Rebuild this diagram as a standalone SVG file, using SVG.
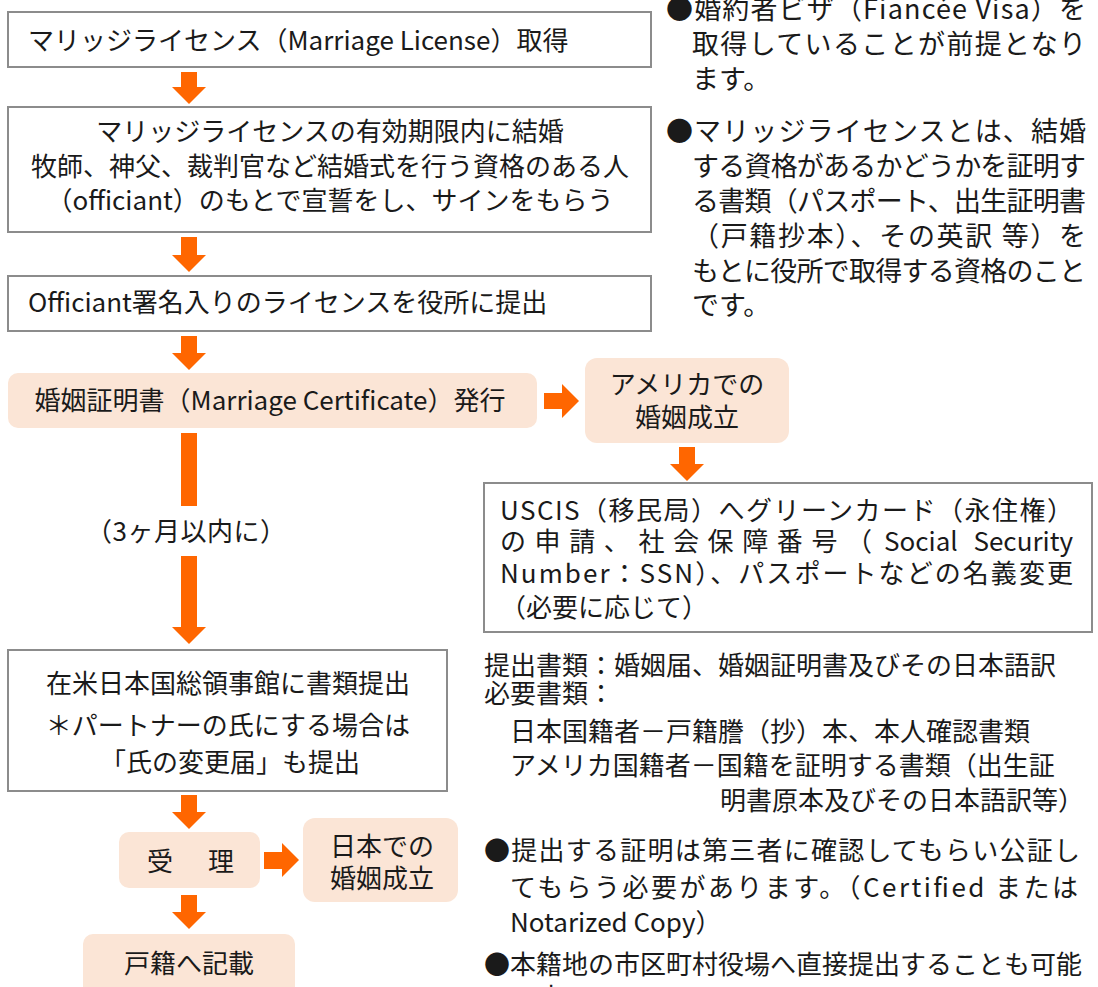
<svg xmlns="http://www.w3.org/2000/svg" width="1098" height="987" viewBox="0 0 1098 987">
<style>
text{font-family:"Noto Sans CJK JP","Noto Sans",sans-serif;font-size:26px;fill:#1a1a1a}
.box{fill:#fff;stroke:#8c8c8c;stroke-width:2}
.pink{fill:#fbe5d6;stroke:none}
.arr{fill:#ff6600}
.note{font-size:27px}
.mid{text-anchor:middle}
</style>
<rect width="1098" height="987" fill="#fff"/>
<g id="connectors">
<polygon class="arr" points="181,72 197,72 197,87 206,87 189,104 172,87 181,87"/>
<polygon class="arr" points="181,237 197,237 197,255 206,255 189,272 172,255 181,255"/>
<polygon class="arr" points="181,336 197,336 197,353 206,353 189,370 172,353 181,353"/>
<polygon class="arr" points="544,393 562,393 562,384 579,401 562,418 562,409 544,409"/>
<polygon class="arr" points="679,447 695,447 695,464 704,464 687,481 670,464 679,464"/>
<rect class="arr" x="181" y="433" width="16" height="73"/>
<polygon class="arr" points="181,556 197,556 197,627 206,627 189,644 172,627 181,627"/>
<polygon class="arr" points="181,795 197,795 197,812 206,812 189,829 172,812 181,812"/>
<polygon class="arr" points="264,852 282,852 282,843 299,860 282,877 282,869 264,869"/>
<polygon class="arr" points="181,895 197,895 197,912 206,912 189,929 172,912 181,912"/>
<text x="86" y="541" textLength="200" lengthAdjust="spacing">（3ヶ月以内に）</text>
</g>
<g id="n1">
<rect class="box" x="8" y="12" width="643" height="55"/>
<text x="28" y="50">マリッジライセンス（Marriage License）取得</text>
</g>
<g id="n2">
<rect class="box" x="8" y="107" width="643" height="125"/>
<text x="330" y="141" class="mid">マリッジライセンスの有効期限内に結婚</text>
<text x="330" y="176" class="mid">牧師、神父、裁判官など結婚式を行う資格のある人</text>
<text x="330" y="210" class="mid">（officiant）のもとで宣誓をし、サインをもらう</text>
</g>
<g id="n3">
<rect class="box" x="8" y="276" width="643" height="55"/>
<text x="28" y="312">Officiant署名入りのライセンスを役所に提出</text>
</g>
<g id="n4">
<rect class="pink" x="8" y="373" width="529" height="55" rx="10"/>
<text x="270" y="410" class="mid">婚姻証明書（Marriage Certificate）発行</text>
</g>
<g id="n5">
<rect class="pink" x="585" y="358" width="204" height="85" rx="12"/>
<text x="687" y="394" class="mid">アメリカでの</text>
<text x="687" y="427" class="mid">婚姻成立</text>
</g>
<g id="n6">
<rect class="box" x="484" y="483" width="608" height="149"/>
<text x="500" y="520" textLength="573" lengthAdjust="spacing">USCIS（移民局）へグリーンカード（永住権）</text>
<text x="500" y="551" textLength="372" lengthAdjust="spacing">の申請、社会保障番号（</text>
<text x="884" y="551">Social</text>
<text x="1073" y="551" text-anchor="end">Security</text>
<text x="500" y="583" textLength="573" lengthAdjust="spacing">Number：SSN）、パスポートなどの名義変更</text>
<text x="500" y="617">（必要に応じて）</text>
</g>
<g id="n7">
<rect class="box" x="8" y="650" width="439" height="141"/>
<text x="228" y="693" class="mid">在米日本国総領事館に書類提出</text>
<text x="228" y="735" class="mid">＊パートナーの氏にする場合は</text>
<text x="230" y="772" class="mid">「氏の変更届」も提出</text>
</g>
<g id="n8">
<rect class="pink" x="119" y="832" width="141" height="56" rx="10"/>
<text x="147" y="871" letter-spacing="4.5">受　理</text>
</g>
<g id="n9">
<rect class="pink" x="303" y="818" width="155" height="84" rx="12"/>
<text x="382" y="856" class="mid">日本での</text>
<text x="382" y="888" class="mid">婚姻成立</text>
</g>
<g id="n10">
<rect class="pink" x="83" y="934" width="212" height="70" rx="10"/>
<text x="189" y="973" class="mid">戸籍へ記載</text>
</g>
<g id="notes-top">
<text class="note" x="666" y="19" textLength="420" lengthAdjust="spacing">●婚約者ビザ（Fiancée Visa）を</text>
<text class="note" x="692" y="54" textLength="394" lengthAdjust="spacing">取得していることが前提となり</text>
<text class="note" x="692" y="89">ます。</text>
<text class="note" x="666" y="141" textLength="420" lengthAdjust="spacing">●マリッジライセンスとは、結婚</text>
<text class="note" x="692" y="176" textLength="394" lengthAdjust="spacing">する資格があるかどうかを証明す</text>
<text class="note" x="692" y="211" textLength="394" lengthAdjust="spacing">る書類（パスポート、出生証明書</text>
<text class="note" x="692" y="246" textLength="394" lengthAdjust="spacing">（戸籍抄本）、その英訳 等）を</text>
<text class="note" x="692" y="281" textLength="394" lengthAdjust="spacing">もとに役所で取得する資格のこと</text>
<text class="note" x="692" y="315">です。</text>
</g>
<g id="notes-bottom">
<text x="484" y="675">提出書類：婚姻届、婚姻証明書及びその日本語訳</text>
<text x="484" y="703">必要書類：</text>
<text x="510" y="741">日本国籍者－戸籍謄（抄）本、本人確認書類</text>
<text x="510" y="775">アメリカ国籍者－国籍を証明する書類（出生証</text>
<text x="720" y="810">明書原本及びその日本語訳等）</text>
<text x="484" y="860" textLength="596" lengthAdjust="spacing">●提出する証明は第三者に確認してもらい公証し</text>
<text x="510" y="897" textLength="568" lengthAdjust="spacing">てもらう必要があります。（Certified または</text>
<text x="510" y="932">Notarized Copy）</text>
<text x="484" y="974">●本籍地の市区町村役場へ直接提出することも可能</text>
<text x="510" y="1006">です。</text>
</g>
</svg>
